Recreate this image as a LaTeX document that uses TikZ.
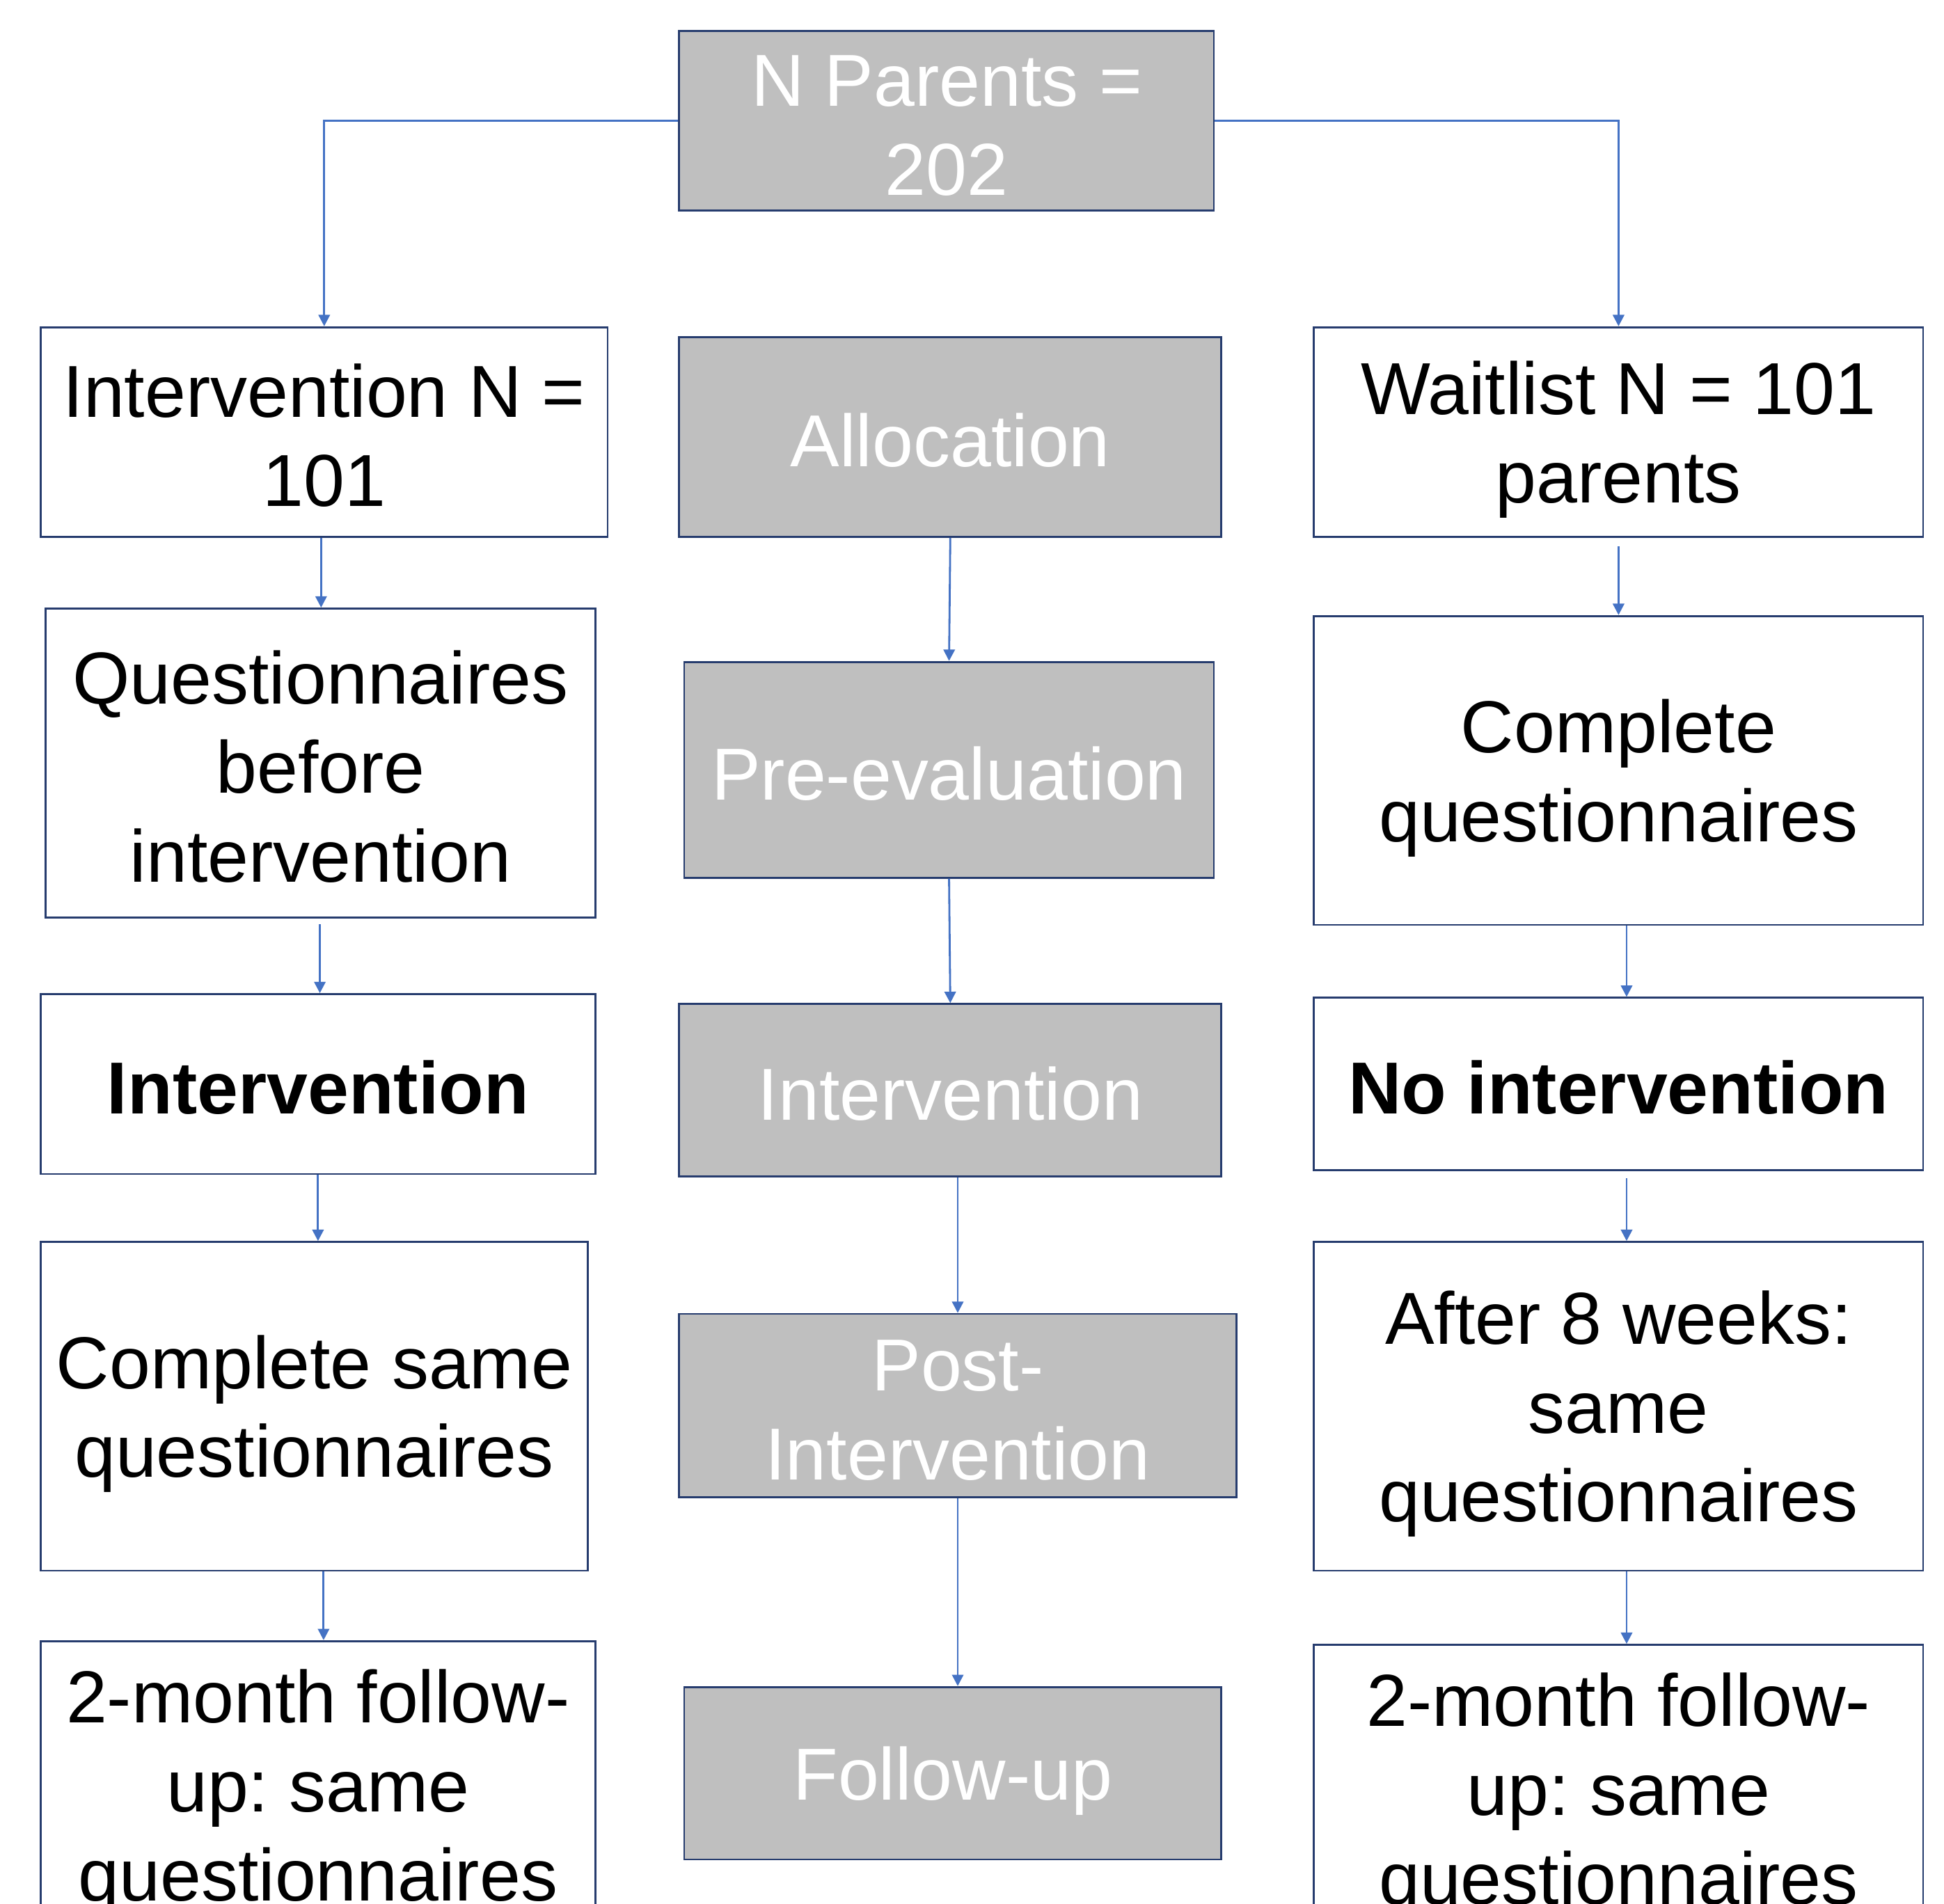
\documentclass[tikz,border=0pt]{standalone}
\usepackage{fontspec}
\setmainfont{Liberation Sans}
\frenchspacing
\usetikzlibrary{calc}
\usetikzlibrary{arrows.meta}
\definecolor{custom-grey}{RGB}{191, 191, 191}
\definecolor{custom-navy}{RGB}{38, 60, 110}
\definecolor{custom-blue}{RGB}{68, 114, 196}
\newcommand{\lstrut}{\rule[-0.12em]{0pt}{1.05em}}
\tikzset{
  stage/.style={draw=custom-navy, line width=0.45pt, fill=custom-grey, text=white, align=center, inner sep=0pt, font=\fontsize{16.9}{20.4}\selectfont},
  group/.style={draw=custom-navy, line width=0.45pt, fill=white, text=black, align=center, inner sep=0pt, font=\fontsize{16.9}{20.4}\selectfont},
  link/.style={draw=custom-blue, line width=0.45pt, -{Triangle[width=2.6pt,length=2.6pt]}}
}
\begin{document}
\begin{tikzpicture}[x=0.01cm, y=-0.01cm]
            \clip (0,0) rectangle (1568,1536);
\fill[white] (0,0) rectangle (1568,1536);
\node[stage, minimum width=4.31cm, minimum height=1.45cm] (parents) at (763.5,97.5) {\lstrut N Parents =\\202\lstrut};
\node[stage, minimum width=4.37cm, minimum height=1.61cm] (alloc) at (766.5,352.5) {\lstrut Allocation\lstrut};
\node[stage, minimum width=4.27cm, minimum height=1.74cm] (pre-eval) at (765.5,621) {\lstrut Pre-evaluation\lstrut};
\node[stage, minimum width=4.37cm, minimum height=1.39cm] (mid-int) at (766.5,879.5) {\lstrut Intervention\lstrut};
\node[stage, minimum width=4.49cm, minimum height=1.48cm] (post-int) at (772.5,1134) {\lstrut Post-\\Intervention\lstrut};
\node[stage, minimum width=4.33cm, minimum height=1.39cm] (follow) at (768.5,1430.5) {\lstrut Follow-up\lstrut};
\node[group, minimum width=4.57cm, minimum height=1.69cm] (int-n) at (261.5,348.5) {\lstrut Intervention N =\\101\lstrut};
\node[group, minimum width=4.43cm, minimum height=2.49cm] (int-pre) at (258.5,615.5) {\lstrut Questionnaires\\before\\intervention\lstrut};
\node[group, minimum width=4.47cm, minimum height=1.45cm] (int-do) at (256.5,874.5) {\lstrut\bfseries Intervention\lstrut};
\node[group, minimum width=4.41cm, minimum height=2.65cm] (int-same) at (253.5,1134.5) {\lstrut Complete same\\questionnaires\lstrut};
\node[group, minimum width=4.47cm, minimum height=2.32cm] (int-fu) at (256.5,1440) {\lstrut 2-month follow-\\up: same\\questionnaires\lstrut};
\node[group, minimum width=4.91cm, minimum height=1.69cm] (wait-n) at (1305.5,348.5) {\lstrut Waitlist N = 101\\parents\lstrut};
\node[group, minimum width=4.91cm, minimum height=2.49cm] (wait-pre) at (1305.5,621.5) {\lstrut Complete\\questionnaires\lstrut};
\node[group, minimum width=4.91cm, minimum height=1.39cm] (wait-no) at (1305.5,874.5) {\lstrut\bfseries No intervention\lstrut};
\node[group, minimum width=4.91cm, minimum height=2.65cm] (wait-same) at (1305.5,1134.5) {\lstrut After 8 weeks:\\same\\questionnaires\lstrut};
\node[group, minimum width=4.91cm, minimum height=2.32cm] (wait-fu) at (1305.5,1443) {\lstrut 2-month follow-\\up: same\\questionnaires\lstrut};
\draw[link] (parents.west) -| (int-n.north);
\draw[link] (parents.east) -| (wait-n.north);
\draw[link] ($(int-n.south)+(-2.5,0)$) -- ($(int-pre.north)+(0.5,0)$);
\draw[link, shorten <=1.4pt] ($(int-pre.south)+(-0.5,0)$) -- ($(int-do.north)+(1.5,0)$);
\draw[link] (int-do.south) -- (int-same.north -| int-do.south);
\draw[link] ($(int-same.south)+(7.5,0)$) -- ($(int-fu.north)+(4.5,0)$);
\draw[link] (alloc.south) -- (pre-eval.north);
\draw[link] (pre-eval.south) -- (mid-int.north);
\draw[link] (post-int.north |- mid-int.south) -- (post-int.north);
\draw[link] (post-int.south) -- (post-int.south |- follow.north);
\draw[link, shorten <=2pt] (wait-n.south) -- (wait-pre.north);
\draw[link] ($(wait-pre.south)+(6.5,0)$) -- ($(wait-no.north)+(6.5,0)$);
\draw[link, shorten <=1.6pt] ($(wait-no.south)+(6.5,0)$) -- ($(wait-same.north)+(6.5,0)$);
\draw[link] ($(wait-same.south)+(6.5,0)$) -- ($(wait-fu.north)+(6.5,0)$);
        \end{tikzpicture}
\end{document}
